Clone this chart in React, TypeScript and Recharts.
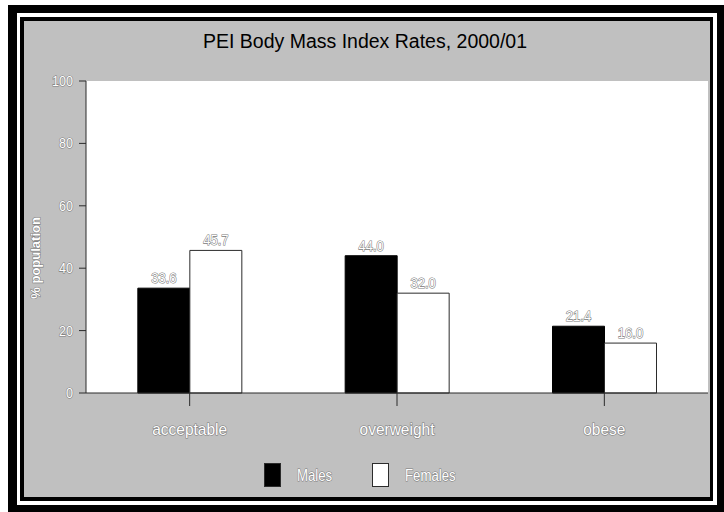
import { BarChart, Bar, XAxis, YAxis, CartesianGrid, Legend, LabelList } from 'recharts'

const categories = ['acceptable', 'overweight', 'obese']
const males = [33.6, 44.0, 21.4]
const females = [45.7, 32.0, 16.0]
const yTicks = [0, 20, 40, 60, 80, 100]
const seriesOrder = ['Males', 'Females']

const data = categories.map((category, i) => ({ category, males: males[i], females: females[i] }))

const FONT = '"Liberation Sans", Arial, sans-serif'
const PANEL = '#c0c0c0'
const INK = '#2b2b2b'

// white glyphs with a thin grey rim (old embossed label look)
const rim = { fill: '#fff', stroke: '#7a7a7a', strokeWidth: 1.1, paintOrder: 'stroke' as const }

// squeezed text, drawn at (x, y) and narrowed horizontally
function Squeezed({ x, y, sx, size, anchor, children, weight }: any) {
  return (
    <text transform={`translate(${x} ${y}) scale(${sx} 1)`} textAnchor={anchor} fontSize={size}
      fontWeight={weight} fontFamily={FONT} {...rim}>
      {children}
    </text>
  )
}

function CategoryTick({ x, y, payload }: any) {
  return <Squeezed x={x} y={y + 27} sx={0.97} size={16} anchor="middle">{payload.value}</Squeezed>
}

function PercentTick({ x, y, payload }: any) {
  return <Squeezed x={x} y={y + 5} sx={0.9} size={14} anchor="end">{payload.value}</Squeezed>
}

function ValueLabel({ x, y, width, value }: any) {
  return <Squeezed x={x + width / 2} y={y - 5} sx={0.9} size={14.5} anchor="middle">{Number(value).toFixed(1)}</Squeezed>
}

function AxisTitle({ viewBox }: any) {
  const cx = viewBox.x + 36
  const cy = viewBox.y + viewBox.height * 0.567
  return (
    <text x={cx} y={cy} transform={`rotate(-90 ${cx} ${cy})`} textAnchor="middle" dominantBaseline="central"
      fontSize={13} fontWeight="bold" fontFamily={FONT} {...rim}>
      % population
    </text>
  )
}

function SeriesLegend({ payload }: any) {
  const items = [...(payload ?? [])].sort((a: any, b: any) => seriesOrder.indexOf(a.value) - seriesOrder.indexOf(b.value))
  return (
    <svg width={724} height={24} style={{ display: 'block' }}>
      {items.map((p: any, i: number) => {
        const left = 264 + i * 108
        return (
          <g key={p.value}>
            <rect x={left + 0.5} y={0.5} width={16} height={23} fill={p.payload?.fill ?? p.color} stroke={INK} />
            <Squeezed x={left + 33} y={18} sx={0.8} size={16.5} anchor="start">{p.value}</Squeezed>
          </g>
        )
      })}
    </svg>
  )
}

const box = (left: number, top: number, width: number, height: number, background: string) => (
  <div style={{ position: 'absolute', left, top, width, height, background }} />
)

export default function App() {
  return (
    <div style={{ position: 'fixed', left: 0, top: 0, width: 724, height: 512, background: '#fff', overflow: 'hidden' }}>
      {box(8, 5, 716, 507, '#000')}
      {box(17, 13, 700, 492, '#fff')}
      {box(20, 17, 693, 484, '#000')}
      {box(24, 21, 686, 476, PANEL)}
      <div style={{
        position: 'absolute', left: 0, top: 31, width: 724, paddingLeft: 6, boxSizing: 'border-box',
        textAlign: 'center', fontFamily: FONT, fontSize: 19.5, lineHeight: '20px', color: '#000',
      }}>
        PEI Body Mass Index Rates, 2000/01
      </div>
      <div style={{ position: 'absolute', left: 0, top: 0 }}>
        <BarChart width={724} height={512} data={data} barCategoryGap="25%" barGap={0}
          margin={{ top: 81, right: 16, left: 0, bottom: 25 }}>
          <CartesianGrid horizontal={false} vertical={false} fill="#fff" />
          <XAxis dataKey="category" height={70} tickSize={13} tickMargin={2}
            axisLine={{ stroke: INK }} tickLine={{ stroke: INK }} tick={<CategoryTick />} />
          <YAxis domain={[0, 100]} ticks={yTicks} width={86} tickSize={7} tickMargin={6}
            axisLine={{ stroke: INK }} tickLine={{ stroke: INK }} tick={<PercentTick />}
            label={{ content: AxisTitle }} />
          <Legend verticalAlign="bottom" wrapperStyle={{ left: 0, width: 724 }} content={<SeriesLegend />} />
          <Bar dataKey="males" name="Males" fill="#000" stroke="#000" isAnimationActive={false}>
            <LabelList dataKey="males" content={ValueLabel} />
          </Bar>
          <Bar dataKey="females" name="Females" fill="#fff" stroke={INK} isAnimationActive={false}>
            <LabelList dataKey="females" content={ValueLabel} />
          </Bar>
        </BarChart>
      </div>
    </div>
  )
}
